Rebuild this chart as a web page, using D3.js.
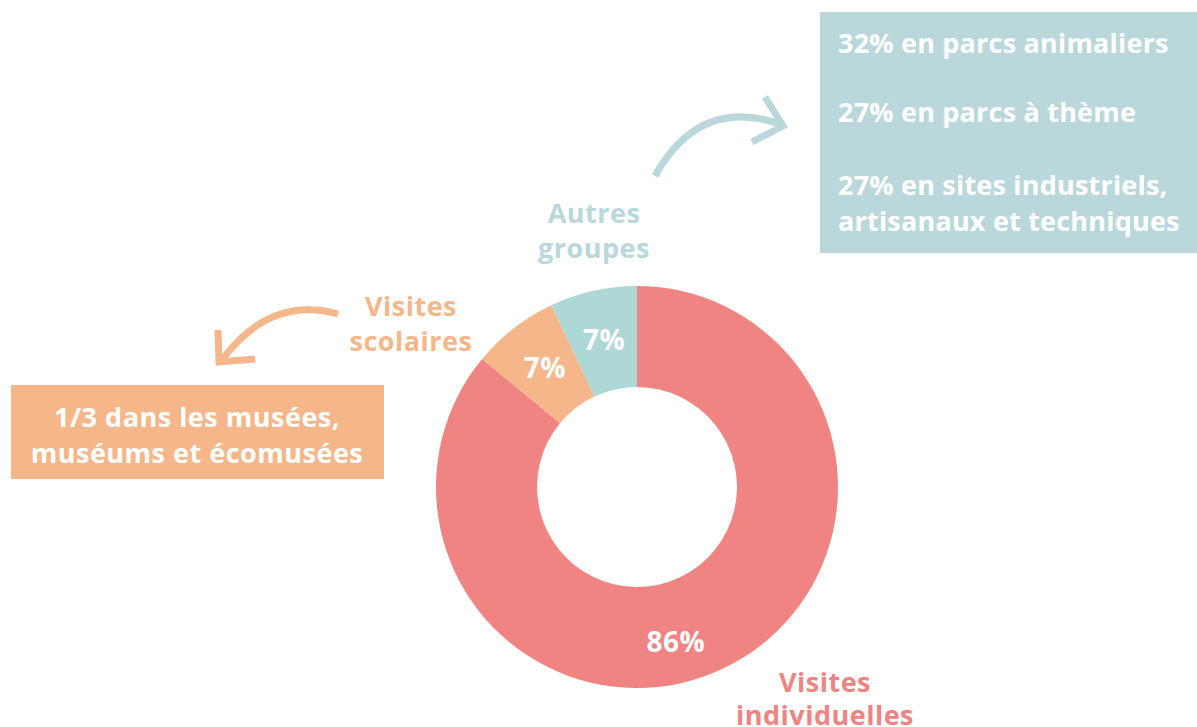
<!DOCTYPE html>
<html>
<head>
<meta charset="utf-8">
<script src="https://cdn.jsdelivr.net/npm/d3@7"></script>
<style>
  body { margin: 0; background: #fff; }
  svg { display: block; font-family: "Open Sans", "Lato", sans-serif; font-weight: 700; letter-spacing: 0.5px; }
</style>
</head>
<body>
<div id="container"></div>
<script>
var width = 1197;
var height = 727;

// data
var categories = ["Visites individuelles", "Visites scolaires", "Autres groupes"];
var values = [86, 7, 7];
var colors = ["#F08482", "#F5B78A", "#ADD8D6"];
var labelColors = ["#F08482", "#F5B78A", "#B9D8DC"];
var autresDetails = ["32% en parcs animaliers", "27% en parcs à thème", "27% en sites industriels,", "artisanaux et techniques"];
var scolairesDetails = ["1/3 dans les musées,", "muséums et écomusées"];

var svg = d3.select("div#container").append("svg")
    .attr("width", width)
    .attr("height", height);

var cx = 637, cy = 487;
var outerR = 201, innerR = 100;

var pie = d3.pie().sort(null).value(function(d) { return d; });
var arc = d3.arc().innerRadius(innerR).outerRadius(outerR);
var arcs = pie(values);

var g = svg.append("g").attr("transform", "translate(" + cx + "," + cy + ")");

g.selectAll("path.slice")
    .data(arcs)
    .enter()
    .append("path")
    .attr("class", "slice")
    .attr("d", arc)
    .attr("fill", function(d, i) { return colors[i]; });

// percentage labels inside the ring
g.selectAll("text.pct")
    .data(arcs)
    .enter()
    .append("text")
    .attr("class", "pct")
    .attr("transform", function(d, i) {
        var c = arc.centroid(d);
        // big slice label sits a bit past the middle, nearer the bottom
        if (i === 0) {
            var a = d.startAngle + (d.endAngle - d.startAngle) * 0.536;
            c = [Math.sin(a) * 160, -Math.cos(a) * 160];
        }
        return "translate(" + c[0] + "," + c[1] + ")";
    })
    .attr("text-anchor", "middle")
    .attr("dy", "0.36em")
    .attr("fill", "#fff")
    .style("font-size", "28px")
    .text(function(d) { return d.data + "%"; });

function multiLine(x, y, lines, color, anchor, size, gap) {
    var t = svg.append("text")
        .attr("x", x).attr("y", y)
        .attr("text-anchor", anchor)
        .attr("fill", color)
        .style("font-size", size + "px");
    lines.forEach(function(l, i) {
        t.append("tspan").attr("x", x).attr("dy", i === 0 ? 0 : gap).text(l);
    });
    return t;
}

// category labels
multiLine(825, 692, categories[0].split(" "), labelColors[0], "middle", 27, 33);
multiLine(411, 316, categories[1].split(" "), labelColors[1], "middle", 27, 35);
multiLine(594, 223, categories[2].split(" "), labelColors[2], "middle", 27, 35);

// detail boxes
svg.append("rect").attr("x", 820).attr("y", 12).attr("width", 377).attr("height", 241).attr("fill", "#BAD8DC");
var tb = svg.append("g");
[[0, 53], [1, 122], [2, 195], [3, 231]].forEach(function(p) {
    tb.append("text").attr("x", 838).attr("y", p[1]).attr("fill", "#fff")
        .style("font-size", "27px").style("letter-spacing", "0.2px").text(autresDetails[p[0]]);
});

svg.append("rect").attr("x", 11).attr("y", 385).attr("width", 373).attr("height", 94).attr("fill", "#F5B78A");
multiLine(197, 427, scolairesDetails, "#fff", "middle", 27, 36);

// arrows
svg.append("path")
    .attr("d", "M655,176 Q700,95 783,125")
    .attr("fill", "none").attr("stroke", "#BAD8DC").attr("stroke-width", 7);
svg.append("path")
    .attr("d", "M765,97 L783,126 L752,142")
    .attr("fill", "none").attr("stroke", "#BAD8DC").attr("stroke-width", 7);

svg.append("path")
    .attr("d", "M338,314 Q270,295 222,360")
    .attr("fill", "none").attr("stroke", "#F5B78A").attr("stroke-width", 7);
svg.append("path")
    .attr("d", "M218,330 L219,362 L255,359")
    .attr("fill", "none").attr("stroke", "#F5B78A").attr("stroke-width", 7);
</script>
</body>
</html>
